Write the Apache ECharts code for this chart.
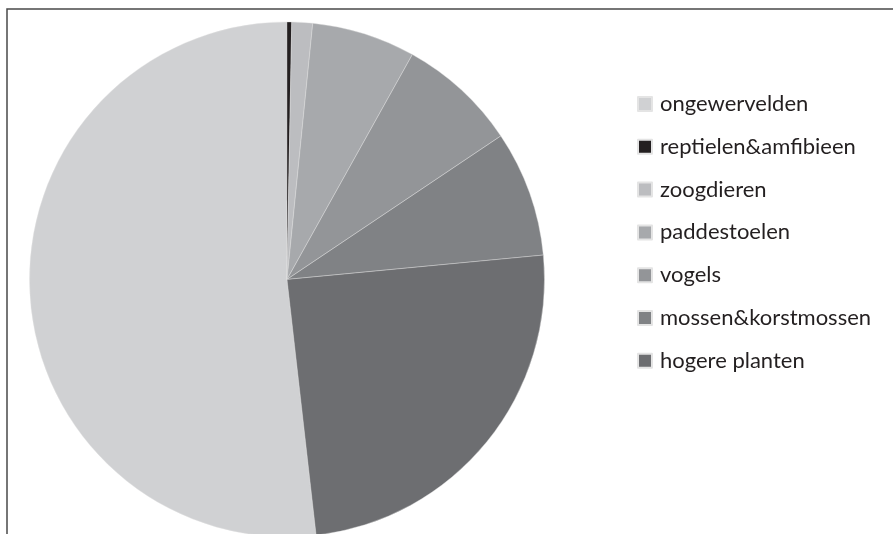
<!DOCTYPE html>
<html>
<head>
<meta charset="utf-8">
<script src="https://cdn.jsdelivr.net/npm/echarts@6/dist/echarts.min.js"></script>
<style>
html,body{margin:0;padding:0;background:#fff;}
#chart{width:893px;height:534px;}
</style>
</head>
<body>
<div id="chart"></div>
<script>
const categories = ['ongewervelden','reptielen&amfibieen','zoogdieren','paddestoelen','vogels','mossen&korstmossen','hogere planten'];
const values = [51.8, 0.3, 1.3, 6.5, 7.5, 7.9, 24.7];
const colors = ['#d0d1d3','#231f20','#bcbdc0','#a7a9ac','#939598','#808285','#6d6e71'];

const chart = echarts.init(document.getElementById('chart'));
chart.setOption({
  animation: false,
  backgroundColor: '#ffffff',
  color: colors,
  legend: {
    orient: 'vertical',
    left: 637,
    top: 93,
    padding: 0,
    itemWidth: 14,
    itemHeight: 14,
    itemGap: 20.8,
    icon: 'rect',
    textStyle: { fontFamily: 'Lato', fontSize: 22, lineHeight: 14, color: '#231f20', padding: [0,0,0,3] },
    data: categories
  },
  graphic: [{
    type: 'polyline',
    shape: { points: [[7, 534], [7, 9], [893, 9]] },
    style: { stroke: '#4a4a4a', lineWidth: 1.5, fill: null },
    silent: true
  }],
  series: [{
    type: 'pie',
    center: [287, 279.4],
    radius: 257.5,
    startAngle: 276.5,
    clockwise: true,
    label: { show: false },
    labelLine: { show: false },
    itemStyle: { borderColor: '#e4e4e4', borderWidth: 0.4 },
    emphasis: { disabled: true },
    data: categories.map((c, i) => ({ name: c, value: values[i] }))
  }]
});
</script>
</body>
</html>
